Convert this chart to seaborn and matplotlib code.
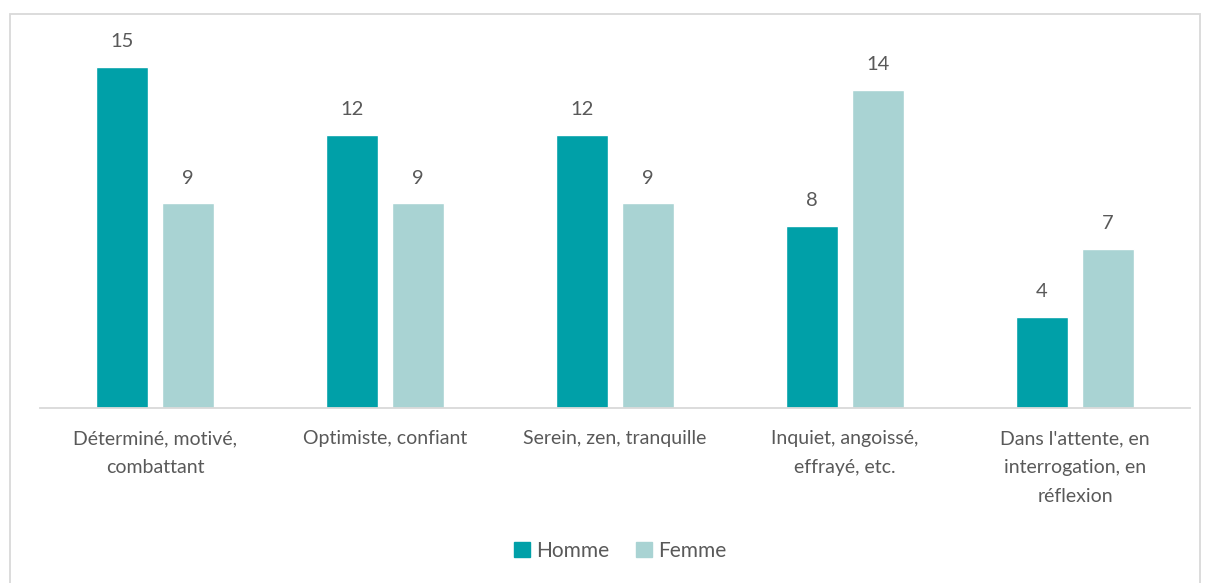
import pandas as pd
import seaborn as sns
import matplotlib.pyplot as plt
from matplotlib.patches import Rectangle, Patch

categories = ["Déterminé, motivé,\ncombattant", "Optimiste, confiant",
              "Serein, zen, tranquille", "Inquiet, angoissé,\neffrayé, etc.",
              "Dans l'attente, en\ninterrogation, en\nréflexion"]
homme = [15, 12, 12, 8, 4]
femme = [9, 9, 9, 14, 7]

df = pd.DataFrame({
    "cat": categories * 2,
    "val": homme + femme,
    "sexe": ["Homme"] * 5 + ["Femme"] * 5,
})

sns.set_style("white")
plt.rcParams['font.family'] = ['Lato', 'DejaVu Sans']
text_col = "#595959"
colors = {"Homme": "#00A0A8", "Femme": "#A9D3D3"}

fig = plt.figure(figsize=(12.08, 5.83), dpi=100)
ax = fig.add_axes([40 / 1208, 1 - 408 / 583, 1150 / 1208, 364 / 583])

sns.barplot(data=df, x="cat", y="val", hue="sexe", palette=colors, saturation=1,
            width=0.574, gap=0.226, ax=ax, legend=False)

for c in ax.containers:
    ax.bar_label(c, padding=12, fontsize=14.5, color=text_col)

ax.set_ylim(0, 16)
ax.set_xlim(-0.5, 4.5)
ax.set_xlabel("")
ax.set_ylabel("")
ax.set_yticks([])
ax.tick_params(axis="x", length=0, pad=16, labelsize=14, labelcolor=text_col)
for lbl in ax.get_xticklabels():
    lbl.set_linespacing(1.85)
for s in ["top", "right", "left"]:
    ax.spines[s].set_visible(False)
ax.spines["bottom"].set_color("#D9D9D9")
ax.spines["bottom"].set_linewidth(1.3)

# legend
handles = [Patch(color=colors["Homme"], label="Homme"), Patch(color=colors["Femme"], label="Femme")]
fig.legend(handles=handles, loc="center", bbox_to_anchor=(620 / 1208, 1 - 551 / 583),
           ncol=2, frameon=False, fontsize=15, labelcolor=text_col,
           handlelength=0.75, handleheight=0.75, handletextpad=0.3, columnspacing=1.3)

# chart border
fig.patches.append(Rectangle((10 / 1208, -0.01), 1190 / 1208, 1 - 14 / 583 + 0.01,
                             transform=fig.transFigure, fill=False,
                             edgecolor="#D9D9D9", linewidth=1.3))

fig.savefig("out.png", dpi=100)
